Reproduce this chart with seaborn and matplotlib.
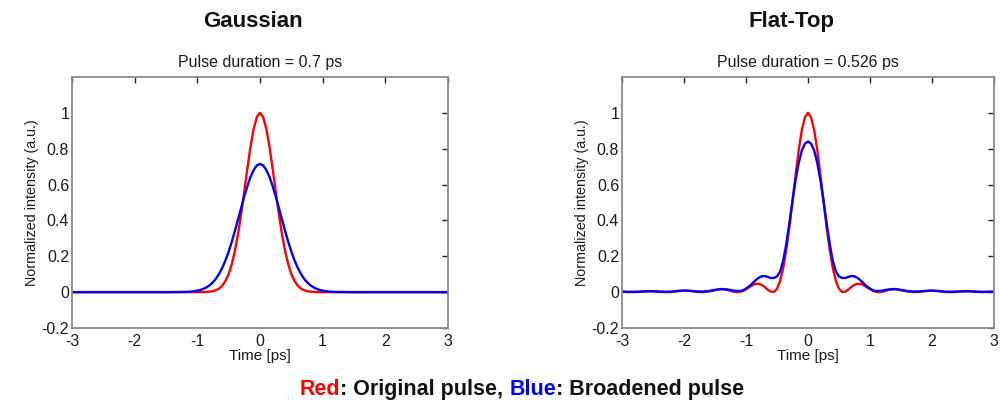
import matplotlib
matplotlib.use("Agg")
import matplotlib.pyplot as plt
import pandas as pd
import seaborn as sns

# ---- Gaussian pulse: time axis [ps] and normalized intensities ----
t_gauss = [-3.0, -2.0, -1.5,
           -1.2, -1.15, -1.1, -1.05, -1.0, -0.95, -0.9, -0.85, -0.8, -0.75,
           -0.7, -0.65, -0.6, -0.55, -0.5, -0.45, -0.4, -0.35, -0.3, -0.25,
           -0.2, -0.15, -0.1, -0.05, 0.0, 0.05, 0.1, 0.15, 0.2, 0.25, 0.3,
           0.35, 0.4, 0.45, 0.5, 0.55, 0.6, 0.65, 0.7, 0.75, 0.8, 0.85, 0.9,
           0.95, 1.0, 1.05, 1.1, 1.15, 1.2,
           1.5, 2.0, 3.0]
gauss_original = [0.0, 0.0, 0.0,
                  0.0, 0.0, 0.0, 0.0, 0.0001, 0.0003, 0.0006, 0.0013, 0.0028, 0.0058,
                  0.0112, 0.0208, 0.0369, 0.0625, 0.101, 0.156, 0.231, 0.325, 0.438, 0.564,
                  0.693, 0.814, 0.912, 0.977, 1.0, 0.977, 0.912, 0.814, 0.693, 0.564, 0.438,
                  0.325, 0.231, 0.156, 0.101, 0.0625, 0.0369, 0.0208, 0.0112, 0.0058, 0.0028,
                  0.0013, 0.0006, 0.0003, 0.0001, 0.0, 0.0, 0.0, 0.0,
                  0.0, 0.0, 0.0]
gauss_broadened = [0.0, 0.0, 0.0,
                   0.0012, 0.0021, 0.0034, 0.0053, 0.0082, 0.0125, 0.0188, 0.0275, 0.0395, 0.0555,
                   0.0765, 0.1035, 0.137, 0.178, 0.226, 0.281, 0.342, 0.406, 0.471, 0.535,
                   0.593, 0.644, 0.682, 0.707, 0.715, 0.707, 0.682, 0.644, 0.593, 0.535, 0.471,
                   0.406, 0.342, 0.281, 0.226, 0.178, 0.137, 0.1035, 0.0765, 0.0555, 0.0395,
                   0.0275, 0.0188, 0.0125, 0.0082, 0.0053, 0.0034, 0.0021, 0.0012,
                   0.0, 0.0, 0.0]

# ---- Flat-top pulse: time axis [ps] and normalized intensities ----
t_flat = [-3.0, -2.9, -2.8, -2.7, -2.6, -2.5, -2.4, -2.3, -2.2, -2.1, -2.0, -1.9, -1.8, -1.7, -1.6,
          -1.5, -1.45, -1.4, -1.35, -1.3, -1.25, -1.2, -1.15, -1.1, -1.05, -1.0, -0.95, -0.9,
          -0.85, -0.8, -0.75, -0.7, -0.65, -0.6, -0.55, -0.5, -0.45, -0.4, -0.35, -0.3, -0.25,
          -0.2, -0.15, -0.1, -0.05, 0.0, 0.05, 0.1, 0.15, 0.2, 0.25, 0.3, 0.35, 0.4, 0.45, 0.5,
          0.55, 0.6, 0.65, 0.7, 0.75, 0.8, 0.85, 0.9, 0.95, 1.0, 1.05, 1.1, 1.15, 1.2, 1.25,
          1.3, 1.35, 1.4, 1.45, 1.5,
          1.6, 1.7, 1.8, 1.9, 2.0, 2.1, 2.2, 2.3, 2.4, 2.5, 2.6, 2.7, 2.8, 2.9, 3.0]
flat_original = [0.002, 0.0, 0.0, 0.002, 0.005, 0.005, 0.002, 0.0, 0.001, 0.005, 0.008, 0.007, 0.002, 0.0, 0.004,
                 0.012, 0.015, 0.017, 0.015, 0.012, 0.007, 0.002, 0.0, 0.001, 0.007, 0.016, 0.027, 0.038,
                 0.046, 0.047, 0.041, 0.029, 0.014, 0.003, 0.001, 0.019, 0.062, 0.134, 0.236, 0.363, 0.507,
                 0.655, 0.792, 0.903, 0.975, 1.0, 0.975, 0.903, 0.792, 0.655, 0.507, 0.363, 0.236, 0.134, 0.062, 0.019,
                 0.001, 0.003, 0.014, 0.029, 0.041, 0.047, 0.046, 0.038, 0.027, 0.016, 0.007, 0.001, 0.0, 0.002, 0.007,
                 0.012, 0.015, 0.017, 0.015, 0.012,
                 0.004, 0.0, 0.002, 0.006, 0.008, 0.005, 0.001, 0.0, 0.002, 0.004, 0.005, 0.002, 0.0, 0.001, 0.002]
flat_broadened = [0.003, 0.002, 0.002, 0.003, 0.005, 0.005, 0.003, 0.002, 0.003, 0.007, 0.009, 0.007, 0.004, 0.003, 0.006,
                  0.012, 0.015, 0.017, 0.017, 0.015, 0.012, 0.009, 0.007, 0.006, 0.010, 0.020, 0.032, 0.048,
                  0.065, 0.079, 0.088, 0.090, 0.085, 0.079, 0.079, 0.088, 0.115, 0.175, 0.27, 0.385, 0.51,
                  0.625, 0.72, 0.79, 0.828, 0.84, 0.828, 0.79, 0.72, 0.625, 0.51, 0.385, 0.27, 0.175, 0.115, 0.088,
                  0.079, 0.079, 0.085, 0.090, 0.088, 0.079, 0.065, 0.048, 0.032, 0.020, 0.010, 0.006, 0.007, 0.009, 0.012,
                  0.015, 0.017, 0.017, 0.015, 0.012,
                  0.006, 0.003, 0.004, 0.007, 0.009, 0.007, 0.003, 0.002, 0.003, 0.005, 0.005, 0.003, 0.002, 0.002, 0.003]

# ---- labels ----
panel_titles = ["Gaussian", "Flat-Top"]
duration_labels = ["Pulse duration = 0.7 ps", "Pulse duration = 0.526 ps"]
x_ticks = [-3, -2, -1, 0, 1, 2, 3]
x_tick_labels = ["-3", "-2", "-1", "0", "1", "2", "3"]
y_ticks = [-0.2, 0.0, 0.2, 0.4, 0.6, 0.8, 1.0]
y_tick_labels = ["-0.2", "0", "0.2", "0.4", "0.6", "0.8", "1"]
x_label = "Time [ps]"
y_label = "Normalized intensity (a.u.)"
series_names = ["Original", "Broadened"]
series_colors = {"Original": "#ff0000", "Broadened": "#0000ff"}

sns.set_style("white")
plt.rcParams["font.family"] = ["Liberation Sans", "DejaVu Sans"]
plt.rcParams["axes.unicode_minus"] = False

fig = plt.figure(figsize=(10, 4), dpi=100)
fig.patch.set_facecolor("white")

panels = [
    (t_gauss, gauss_original, gauss_broadened, [0.072, 0.18, 0.376, 0.6275], 0.253),
    (t_flat, flat_original, flat_broadened, [0.622, 0.18, 0.372, 0.6275], 0.792),
]

for i, (t, orig, broad, rect, title_x) in enumerate(panels):
    ax = fig.add_axes(rect)
    df = pd.DataFrame({
        "time": list(t) + list(t),
        "intensity": list(orig) + list(broad),
        "pulse": [series_names[0]] * len(t) + [series_names[1]] * len(t),
    })
    sns.lineplot(data=df, x="time", y="intensity", hue="pulse",
                 hue_order=series_names, palette=series_colors,
                 estimator=None, sort=True, linewidth=1.7, legend=False, ax=ax)
    ax.set_xlim(-3, 3)
    ax.set_ylim(-0.2, 1.2)
    ax.set_xticks(x_ticks)
    ax.set_xticklabels(x_tick_labels)
    ax.set_yticks(y_ticks)
    ax.set_yticklabels(y_tick_labels)
    ax.tick_params(direction="in", top=True, right=True, length=4, width=1,
                   color="#222222", labelsize=11.5, labelcolor="#1a1a1a")
    ax.tick_params(axis="x", pad=4)
    ax.tick_params(axis="y", pad=2)
    for s in ax.spines.values():
        s.set_visible(True)
        s.set_color("#8a8a8a")
        s.set_linewidth(1.3)
    ax.set_xlabel(x_label, fontsize=11, color="#1a1a1a", labelpad=0)
    ax.set_ylabel(y_label, fontsize=10.3, color="#1a1a1a", labelpad=2)
    ax.set_title(duration_labels[i], fontsize=11.5, color="#1a1a1a", pad=7)
    fig.text(title_x, 0.946, panel_titles[i], ha="center", va="center",
             fontsize=16, fontweight="bold", color="#111111")

# Colour key under the panels, drawn piecewise on a common baseline
chunks = [("Red", "#ff0000"), (": Original pulse, ", "#111111"),
          ("Blue", "#0000ff"), (": Broadened pulse", "#111111")]
renderer = fig.canvas.get_renderer()
texts = []
widths = []
for s, c in chunks:
    tx = fig.text(0, 0.012, s, color=c, fontsize=15.5, fontweight="bold",
                  ha="left", va="baseline")
    w = tx.get_window_extent(renderer=renderer).width / fig.bbox.width
    texts.append(tx)
    widths.append(w)
x0 = 0.522 - sum(widths) / 2
for tx, w in zip(texts, widths):
    tx.set_x(x0)
    x0 += w

fig.savefig("out.png", dpi=100, facecolor="white")
